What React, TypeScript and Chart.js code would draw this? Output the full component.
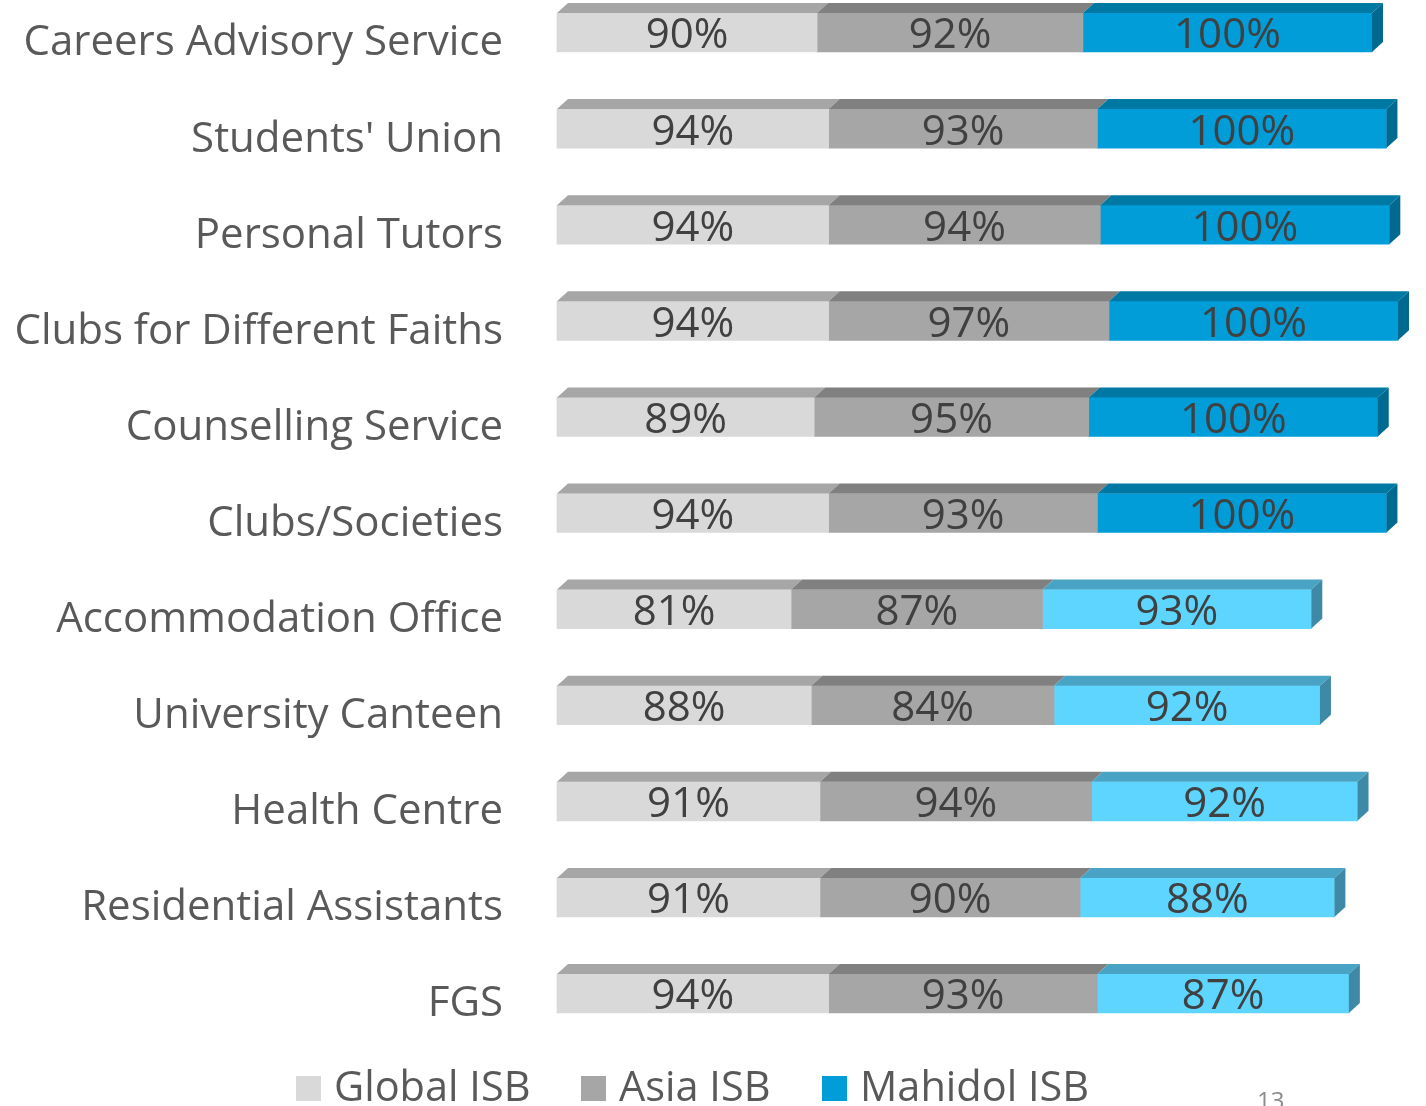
import React, { useEffect, useRef } from "react";
import { Chart, registerables } from "chart.js";

Chart.register(...registerables);

const categories = [
  "Careers Advisory Service",
  "Students' Union",
  "Personal Tutors",
  "Clubs for Different Faiths",
  "Counselling Service",
  "Clubs/Societies",
  "Accommodation Office",
  "University Canteen",
  "Health Centre",
  "Residential Assistants",
  "FGS",
];
const globalISB = [90, 94, 94, 94, 89, 94, 81, 88, 91, 91, 94];
const asiaISB = [92, 93, 94, 97, 95, 93, 87, 84, 94, 90, 93];
const mahidolISB = [100, 100, 100, 100, 100, 100, 93, 92, 92, 88, 87];
const seriesNames = ["Global ISB", "Asia ISB", "Mahidol ISB"];
const pageNumber = "13";

const FONT = "'Open Sans', sans-serif";
const DARK_BLUE = "#009DD8";
const LIGHT_BLUE = "#5DD5FE";
const mahidolFront = mahidolISB.map((_, i) => (i < 6 ? DARK_BLUE : LIGHT_BLUE));
const mahidolTop = mahidolISB.map((_, i) => (i < 6 ? "#0078A4" : "#48A3C4"));
const mahidolSide = mahidolISB.map((_, i) => (i < 6 ? "#00698F" : "#3E8AA6"));
const topColors = [["#A6A6A6"], ["#808080"], mahidolTop];

const DX = 11;
const DY = 10;

const threeD = {
  id: "threeD",
  afterDatasetsDraw(chart: any) {
    const ctx = chart.ctx;
    ctx.save();
    const n = chart.data.datasets.length;
    for (let d = 0; d < n; d++) {
      const meta = chart.getDatasetMeta(d);
      meta.data.forEach((el: any, i: number) => {
        const p = el.getProps(["x", "y", "base", "height"], true);
        const x0 = Math.min(p.base, p.x);
        const x1 = Math.max(p.base, p.x);
        const yT = p.y - p.height / 2;
        const yB = p.y + p.height / 2;
        const tc = topColors[d][i] ?? topColors[d][0];
        ctx.fillStyle = tc;
        ctx.beginPath();
        ctx.moveTo(x0, yT);
        ctx.lineTo(x1, yT);
        ctx.lineTo(x1 + DX, yT - DY);
        ctx.lineTo(x0 + DX, yT - DY);
        ctx.closePath();
        ctx.fill();
        if (d === n - 1) {
          ctx.fillStyle = mahidolSide[i];
          ctx.beginPath();
          ctx.moveTo(x1, yT);
          ctx.lineTo(x1 + DX, yT - DY);
          ctx.lineTo(x1 + DX, yB - DY);
          ctx.lineTo(x1, yB);
          ctx.closePath();
          ctx.fill();
        }
        const v = chart.data.datasets[d].data[i];
        ctx.fillStyle = "#404040";
        ctx.font = `42px ${FONT}`;
        ctx.textAlign = "center";
        ctx.textBaseline = "middle";
        ctx.fillText(v + "%", (x0 + x1) / 2, p.y + 4);
      });
    }
    ctx.restore();
  },
  afterDraw(chart: any) {
    const ctx = chart.ctx;
    ctx.save();
    const legendColors = ["#D9D9D9", "#A6A6A6", DARK_BLUE];
    const squareX = [296, 581, 822];
    ctx.font = `41.5px ${FONT}`;
    ctx.textBaseline = "middle";
    ctx.textAlign = "left";
    seriesNames.forEach((name, i) => {
      ctx.fillStyle = legendColors[i];
      ctx.fillRect(squareX[i], 1076, 25, 25);
      ctx.fillStyle = "#595959";
      ctx.fillText(name, squareX[i] + 38, 1089);
    });
    ctx.fillStyle = "#8C8C8C";
    ctx.font = `24px ${FONT}`;
    ctx.textBaseline = "top";
    ctx.fillText(pageNumber, 1257, 1090);
    ctx.restore();
  },
};

export default function App() {
  const ref = useRef<HTMLCanvasElement | null>(null);
  useEffect(() => {
    document.body.style.margin = "0";
    const canvas = ref.current!;
    const chart = new Chart(canvas, {
      type: "bar",
      data: {
        labels: categories,
        datasets: [
          { label: seriesNames[0], data: globalISB, backgroundColor: "#D9D9D9" },
          { label: seriesNames[1], data: asiaISB, backgroundColor: "#A6A6A6" },
          { label: seriesNames[2], data: mahidolISB, backgroundColor: mahidolFront },
        ],
      },
      options: {
        indexAxis: "y",
        responsive: false,
        animation: false,
        datasets: { bar: { barThickness: 39, clip: false as any, borderWidth: 0 } },
        layout: { padding: { left: 0, right: 2, top: 32.5, bottom: 112.5 } },
        plugins: { legend: { display: false }, tooltip: { enabled: false } },
        scales: {
          x: { stacked: true, display: false, min: 0, max: 300 },
          y: {
            stacked: true,
            offset: false,
            grid: { display: false },
            border: { display: false },
            afterFit: (s: any) => {
              s.width = 557;
              s.paddingTop = 0;
              s.paddingBottom = 0;
            },
            ticks: {
              padding: 46,
              labelOffset: 11,
              color: "#595959",
              font: { family: FONT, size: 42 },
              autoSkip: false,
            },
          },
        },
      },
      plugins: [threeD],
    });
    return () => chart.destroy();
  }, []);
  return (
    <div style={{ width: 1426, height: 1106 }}>
      <canvas ref={ref} width={1426} height={1106} style={{ display: "block" }} />
    </div>
  );
}
